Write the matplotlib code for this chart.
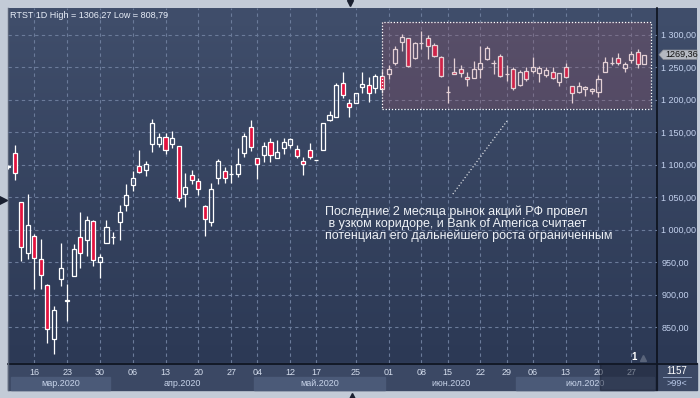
import numpy as np
import matplotlib
matplotlib.use('Agg')
import matplotlib.pyplot as plt
from matplotlib.patches import Rectangle, Polygon
from matplotlib.transforms import blended_transform_factory

plt.rcParams['font.family'] = ['Liberation Sans', 'DejaVu Sans']

# trading-day index, 0 = 16 Mar 2020
days = np.arange(-4, 94)
opens = [1096, 1118, 1042, 965, 991, 955, 915, 832, 925, 891, 929.5, 989, 985, 1013, 950, 979, 989.5,
         1011.5, 1038, 1068.5, 1098, 1091.5, 1131.5, 1131.5, 1142, 1132.5, 1128.5, 1055.5, 1084, 1075,
         1037, 1011.5, 1079, 1090, 1086, 1085.5, 1117.5, 1157.5, 1110, 1115, 1135, 1111, 1125.5, 1130,
         1124, 1106, 1123, 1107.5, 1123, 1169.5, 1174, 1225.5, 1195, 1194.5, 1219, 1223, 1217.5, 1236.5,
         1239, 1257, 1289.5, 1294.5, 1265, 1288, 1294.5, 1284, 1266.5, 1212.5, 1243, 1247, 1234.5, 1234,
         1247.5, 1263, 1257, 1267.5, 1239, 1247, 1222.5, 1244, 1245, 1241, 1238, 1242.5, 1228, 1250,
         1220.5, 1212.5, 1216, 1214, 1212.5, 1242, 1257, 1264, 1248.5, 1260.5, 1274, 1254.5]
highs = [1099, 1131, 1043, 1055, 993, 986, 916, 883, 979, 917, 978, 1027, 1021, 1015, 963, 1015, 996,
         1038, 1070.5, 1090.5, 1123, 1105.5, 1170.5, 1148.5, 1148.5, 1151.5, 1129, 1087.5, 1092, 1079,
         1038, 1071.5, 1109.5, 1097, 1099, 1125.5, 1148.5, 1168.5, 1111, 1135.5, 1140.5, 1138, 1140.5, 1141.5,
         1130, 1112.5, 1133, 1107.5, 1164, 1183, 1225.5, 1242.5, 1201.5, 1210, 1243.5, 1234.5, 1239, 1245.5,
         1253.5, 1283, 1301.5, 1295, 1289.5, 1306.3, 1299.5, 1287, 1267, 1221.5, 1264, 1253.5, 1243, 1259.5,
         1283, 1283, 1261.5, 1270, 1253.5, 1250, 1246, 1250, 1265.5, 1252, 1250, 1250, 1241, 1256,
         1221, 1228, 1221.5, 1217.5, 1238, 1265.5, 1265.5, 1272.5, 1258.5, 1275.5, 1278, 1269.5]
lows = [1094, 1076, 952, 955, 909, 909, 826, 809, 913, 859, 929, 942, 959, 945, 926, 979, 978,
        984, 1029.5, 1059, 1087, 1082, 1119, 1127, 1117, 1126.5, 1045, 1035.5, 1070, 1053.5,
        991, 1006.5, 1070, 1072.5, 1072.5, 1080.5, 1112.5, 1120.5, 1078.5, 1104.5, 1105, 1111, 1117, 1125.5,
        1110, 1084.5, 1109, 1107.5, 1122, 1167.5, 1174, 1202.5, 1174, 1194.5, 1210, 1197, 1210, 1210,
        1232, 1253.5, 1275.5, 1251, 1263.5, 1277.5, 1262.5, 1265.5, 1235.5, 1195.5, 1239, 1235.5, 1220.5, 1234,
        1234, 1261.5, 1239.5, 1235.5, 1229, 1215, 1220.5, 1229, 1241, 1228, 1235.5, 1232, 1220.5, 1234,
        1195.5, 1210, 1206.5, 1208.5, 1205, 1242, 1253.5, 1253.5, 1242.5, 1256, 1248.5, 1254.5]
closes = [1098, 1087, 974, 1008, 956, 931, 848, 876, 942, 891.5, 970.5, 965, 1015, 953, 958, 1004, 989.5,
          1027, 1053.5, 1079, 1088.5, 1101, 1164, 1142, 1123, 1141, 1049.5, 1065.5, 1076, 1063.5,
          1016.5, 1063, 1105.5, 1079, 1086, 1101, 1144, 1128, 1101.5, 1128.5, 1115.5, 1119, 1135, 1139,
          1114, 1101, 1112.5, 1107.5, 1164, 1176.5, 1223, 1207, 1188.5, 1210, 1224.5, 1211, 1236.5, 1216,
          1247, 1277.5, 1296, 1251.5, 1287, 1288, 1283.5, 1268, 1237, 1212.5, 1239.5, 1241, 1231.5, 1247,
          1257, 1279, 1257, 1237, 1239, 1217.5, 1242.5, 1232, 1250, 1248.5, 1246, 1233.5, 1241, 1234.5,
          1210, 1221.5, 1219.5, 1216.5, 1231.5, 1258.5, 1257, 1256, 1255, 1270, 1255, 1269.36]

tick_pos = [0, 5, 10, 15, 20, 25, 30, 34, 39, 43, 49, 54, 59, 63, 68, 72, 76, 81, 86, 91]
tick_labels = ['16', '23', '30', '06', '13', '20', '27', '04', '12', '17',
               '25', '01', '08', '15', '22', '29', '06', '13', '20', '27']
month_edges = [-3, 12, 34, 54, 74, 94.92]
month_names = ['мар.2020', 'апр.2020', 'май.2020', 'июн.2020', 'июл.2020']
price_ticks = np.arange(850, 1301, 50)
last_price = 1269.36
title = 'RTST 1D High = 1306,27 Low = 808,79'
note = ('Последние 2 месяца рынок акций РФ провел\n'
        ' в узком коридоре, и Bank of America считает\n'
        'потенциал его дальнейшего роста ограниченным')

W, H = 700, 398
fig = plt.figure(figsize=(7, 3.98), dpi=100)

# window chrome drawn in pixel coords
bg = fig.add_axes([0, 0, 1, 1])
bg.axis('off')
bg.add_patch(Rectangle((0, 0), W, H, color='#c3cbd7', zorder=0))
c_top = np.array([0x40, 0x4e, 0x6b]) / 255
c_bot = np.array([0x2c, 0x39, 0x55]) / 255
t = np.linspace(0, 1, 256)[:, None, None]
grad = c_top * (1 - t) + c_bot * t
bg.imshow(grad, extent=(8, 697, 363, 8), aspect='auto', origin='upper', zorder=1)
bg.add_patch(Rectangle((8, 363), 689, 27, color='#3b4864', zorder=2))
bg.plot([657, 657], [8, 390], color='#0c111c', lw=1.2, zorder=3)
bg.plot([8, 697], [363.5, 363.5], color='#0c111c', lw=1.2, zorder=3)
bg.plot([7.5, 7.5], [8, 390], color='#5a6478', lw=1, zorder=3)
bg.text(677, 371, '1157', color='white', fontsize=7, ha='center', va='center', zorder=4)
bg.plot([663, 691], [377, 377], color='#8a9ab8', lw=0.7, zorder=4)
bg.text(677, 384, '>99<', color='#b8c8e8', fontsize=6.5, ha='center', va='center', zorder=4)
bg.plot([350], [3], marker='v', color='#1a2030', ms=5, zorder=4)
bg.plot([3], [200], marker='>', color='#1a2030', ms=6, zorder=4)
bg.plot([352], [396], marker='^', color='#1a2030', ms=5, zorder=4)
bg.set_xlim(0, W)
bg.set_ylim(H, 0)

# price chart
ax = fig.add_axes([8 / W, 35 / H, 649 / W, 355 / H])
ax.set_facecolor('none')
for s in ax.spines.values():
    s.set_visible(False)

o = np.array(opens)
c = np.array(closes)
hi = np.array(highs)
lo = np.array(lows)
up = c >= o
top = np.maximum(o, c)
bot = np.minimum(o, c)
ax.vlines(days, top, hi, color='white', lw=0.9, zorder=3)
ax.vlines(days, lo, bot, color='white', lw=0.9, zorder=3)
ax.bar(days[up], (c - o)[up], bottom=o[up], width=0.62, facecolor='none',
       edgecolor='white', linewidth=0.9, zorder=3)
ax.bar(days[~up], (o - c)[~up], bottom=c[~up], width=0.62, facecolor='#e3123e',
       edgecolor='white', linewidth=0.9, zorder=3)

ax.set_xlim(-4.01, 94.92)
ax.set_ylim(795.1, 1341.2)
ax.set_xticks(tick_pos)
ax.set_xticklabels(tick_labels)
ax.set_yticks(price_ticks)
ax.set_yticklabels([f'{v:,.2f}'.replace(',', ' ').replace('.', ',') for v in price_ticks])
ax.yaxis.tick_right()
ax.tick_params(axis='x', length=0, labelsize=6.5, labelcolor='#d3dcec', pad=3.5)
ax.tick_params(axis='y', length=0, labelsize=6.5, labelcolor='#c4d2ee', pad=3)
ax.set_axisbelow(True)
ax.grid(True, color='#6b7b9a', linestyle=(0, (3, 3)), linewidth=0.8)

# highlighted range
ax.add_patch(Rectangle((53.05, 1185.8), 40.9, 134.4, facecolor=(0.61, 0.33, 0.4),
                       alpha=0.27, edgecolor='none', zorder=5))
ax.add_patch(Rectangle((53.05, 1185.8), 40.9, 134.4, fill=False, edgecolor='white',
                       linestyle=(0, (1, 1.5)), lw=0.9, zorder=6))
ax.plot([63.8, 72.06], [1055, 1167.4], color='white', lw=0.8, linestyle=(0, (1, 2)), zorder=6)
ax.text(44.3, 1037, note, color='#eef1f6', fontsize=9, va='top', ha='left',
        linespacing=0.98, zorder=6)
ax.text(0.003, 0.98, title, transform=ax.transAxes, color='#e8eef8', fontsize=6.5,
        ha='left', va='center')

# month bands under the day labels
bt = blended_transform_factory(ax.transData, ax.transAxes)
for k, name in enumerate(month_names):
    a, b = month_edges[k], month_edges[k + 1]
    if k % 2 == 0:
        ax.add_patch(Rectangle((a - 0.5, -0.0761), b - a, 0.0367, transform=bt,
                               color='#4b5a78', clip_on=False, zorder=1))
    ax.text((a + b) / 2 - 0.5, -0.058, name, transform=bt, ha='center', va='center',
            fontsize=6.5, color='#c8d4ea', clip_on=False)
ax.add_patch(Rectangle((86.2, -0.0761), 8.72, 0.0761, transform=bt, color='#141b2c',
                       alpha=0.45, clip_on=False, zorder=7))

# last price tag
bty = blended_transform_factory(ax.transAxes, ax.transData)
hh = 7.2
ax.add_patch(Polygon([(1.003, last_price), (1.0095, last_price + hh), (1.0616, last_price + hh),
                      (1.0616, last_price - hh), (1.0095, last_price - hh)], closed=True,
                     transform=bty, facecolor='#b4b8c0', edgecolor='#8a8e96', lw=0.5,
                     clip_on=False, zorder=7))
ax.text(1.0125, last_price, f'{last_price:.2f}'.replace('.', ','), transform=bty,
        color='#101010', fontsize=6.5, va='center', ha='left', zorder=8)

ax.text(0.9646, 0.017, '1', transform=ax.transAxes, color='white', fontsize=7,
        ha='center', va='center', fontweight='bold')
ax.plot([0.979], [0.015], marker='^', color='#59647a', ms=4, transform=ax.transAxes, clip_on=False)

fig.savefig('out.png', dpi=100)
